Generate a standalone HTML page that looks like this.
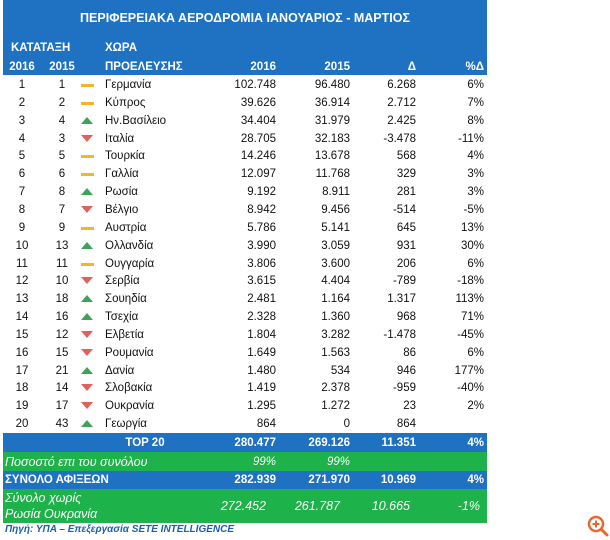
<!DOCTYPE html>
<html><head><meta charset="utf-8"><style>
body{margin:0;width:610px;height:540px;background:#fff;position:relative;font-family:"Liberation Sans","DejaVu Sans",sans-serif;overflow:hidden}
.a{position:absolute;white-space:nowrap;font-size:11.5px;line-height:14px;color:#111}
.r{text-align:right}.c{text-align:center}
.w{color:#fff;font-weight:bold}
.band{position:absolute;left:3px;width:484px}
</style></head><body>
<div class="band" style="top:0;height:75px;background:#1f72c2"></div>
<div class="a w c" style="left:3px;width:484px;top:11px;font-size:12.5px">ΠΕΡΙΦΕΡΕΙΑΚΑ ΑΕΡΟΔΡΟΜΙΑ ΙΑΝΟΥΑΡΙΟΣ - ΜΑΡΤΙΟΣ</div>
<div class="a w" style="left:11px;top:41px">ΚΑΤΑΤΑΞΗ</div>
<div class="a w" style="left:105px;top:41px">ΧΩΡΑ</div>
<div class="a w c" style="left:7px;width:30px;top:60px">2016</div>
<div class="a w c" style="left:47px;width:30px;top:60px">2015</div>
<div class="a w" style="left:105px;top:60px">ΠΡΟΕΛΕΥΣΗΣ</div>
<div class="a w r" style="left:216px;width:60px;top:60px">2016</div>
<div class="a w r" style="left:290px;width:60px;top:60px">2015</div>
<div class="a w r" style="left:356px;width:60px;top:60px">Δ</div>
<div class="a w r" style="left:424px;width:60px;top:60px">%Δ</div>
<div id="rows"></div>

<div class="band" style="top:433px;height:19px;background:#1f72c2"></div>
<div class="a w c" style="left:100px;width:90px;top:436px">TOP 20</div>
<div class="a w r" style="left:196px;width:80px;top:436px">280.477</div>
<div class="a w r" style="left:270px;width:80px;top:436px">269.126</div>
<div class="a w r" style="left:336px;width:80px;top:436px">11.351</div>
<div class="a w r" style="left:404px;width:80px;top:436px">4%</div>

<div class="band" style="top:452px;height:19px;background:#1db34a"></div>
<div class="a" style="left:5px;top:455px;color:#fff;font-style:italic;font-size:12.5px">Ποσοστό επι του συνόλου</div>
<div class="a r" style="left:196px;width:80px;top:455px;color:#fff;font-style:italic">99%</div>
<div class="a r" style="left:270px;width:80px;top:455px;color:#fff;font-style:italic">99%</div>

<div class="band" style="top:471px;height:18px;background:#1f72c2"></div>
<div class="a w" style="left:5px;top:473px">ΣΥΝΟΛΟ ΑΦΙΞΕΩΝ</div>
<div class="a w r" style="left:196px;width:80px;top:473px">282.939</div>
<div class="a w r" style="left:270px;width:80px;top:473px">271.970</div>
<div class="a w r" style="left:336px;width:80px;top:473px">10.969</div>
<div class="a w r" style="left:404px;width:80px;top:473px">4%</div>

<div class="band" style="top:489px;height:34px;background:#1db34a"></div>
<div class="a" style="left:5px;top:490px;color:#fff;font-style:italic;font-size:12.5px;line-height:16px">Σύνολο χωρίς<br>Ρωσία Ουκρανία</div>
<div class="a r" style="left:186px;width:80px;top:499px;color:#fff;font-style:italic;font-size:12.5px">272.452</div>
<div class="a r" style="left:260px;width:80px;top:499px;color:#fff;font-style:italic;font-size:12.5px">261.787</div>
<div class="a r" style="left:330px;width:80px;top:499px;color:#fff;font-style:italic;font-size:12.5px">10.665</div>
<div class="a r" style="left:400px;width:80px;top:499px;color:#fff;font-style:italic;font-size:12.5px">-1%</div>

<div class="a" style="left:5px;top:523px;color:#1f5fa8;font-style:italic;font-weight:bold;font-size:10px">Πηγή: ΥΠΑ – Επεξεργασία SETE INTELLIGENCE</div>
<svg style="position:absolute;left:586px;top:514px" width="24" height="24" viewBox="0 0 24 24"><circle cx="10" cy="10" r="7" fill="none" stroke="#e8692e" stroke-width="2.5"/><line x1="15" y1="15" x2="21" y2="21" stroke="#e8692e" stroke-width="3" stroke-linecap="round"/><line x1="6.5" y1="10" x2="13.5" y2="10" stroke="#e8692e" stroke-width="2"/><line x1="10" y1="6.5" x2="10" y2="13.5" stroke="#e8692e" stroke-width="2"/></svg>

<script>
const rank2016=[1,2,3,4,5,6,7,8,9,10,11,12,13,14,15,16,17,18,19,20];
const rank2015=[1,2,4,3,5,6,8,7,9,13,11,10,18,16,12,15,21,14,17,43];
const countries=["Γερμανία","Κύπρος","Ην.Βασίλειο","Ιταλία","Τουρκία","Γαλλία","Ρωσία","Βέλγιο","Αυστρία","Ολλανδία","Ουγγαρία","Σερβία","Σουηδία","Τσεχία","Ελβετία","Ρουμανία","Δανία","Σλοβακία","Ουκρανία","Γεωργία"];
const v2016=["102.748","39.626","34.404","28.705","14.246","12.097","9.192","8.942","5.786","3.990","3.806","3.615","2.481","2.328","1.804","1.649","1.480","1.419","1.295","864"];
const v2015=["96.480","36.914","31.979","32.183","13.678","11.768","8.911","9.456","5.141","3.059","3.600","4.404","1.164","1.360","3.282","1.563","534","2.378","1.272","0"];
const deltas=["6.268","2.712","2.425","-3.478","568","329","281","-514","645","931","206","-789","1.317","968","-1.478","86","946","-959","23","864"];
const pcts=["6%","7%","8%","-11%","4%","3%","3%","-5%","13%","30%","6%","-18%","113%","71%","-45%","6%","177%","-40%","2%",""];
const root=document.getElementById('rows');
function cell(txt,left,w,top,cls,name){const d=document.createElement('div');d.className='a '+cls;d.style.left=left+'px';d.style.width=w+'px';d.style.top=top+'px';d.textContent=txt;


root.appendChild(d);}
for(let i=0;i<countries.length;i++){
 const y=78+i*17.85;
 cell(rank2016[i],7,30,y,'c','rank-2016-cell');
 cell(rank2015[i],47,30,y,'c','rank-2015-cell');
 cell(countries[i],105,110,y,'','country-cell');
 cell(v2016[i],196,80,y,'r','value-2016-cell');
 cell(v2015[i],270,80,y,'r','value-2015-cell');
 cell(deltas[i],336,80,y,'r','delta-cell');
 cell(pcts[i],404,80,y,'r','pct-cell');
 const ic=document.createElement('div');ic.style.position='absolute';ic.style.left='81px';
 const diff=rank2016[i]-rank2015[i];
 if(diff===0){ic.style.top=(y+6)+'px';ic.style.width='13px';ic.style.height='3px';ic.style.background='#f5b42a';}
 else if(diff<0){ic.style.top=(y+3)+'px';ic.style.borderLeft='6px solid transparent';ic.style.borderRight='6px solid transparent';ic.style.borderBottom='7px solid #3ea35a';}
 else{ic.style.top=(y+3)+'px';ic.style.borderLeft='6px solid transparent';ic.style.borderRight='6px solid transparent';ic.style.borderTop='7px solid #e0605a';}
 
 
 root.appendChild(ic);
}
</script>
</body></html>
